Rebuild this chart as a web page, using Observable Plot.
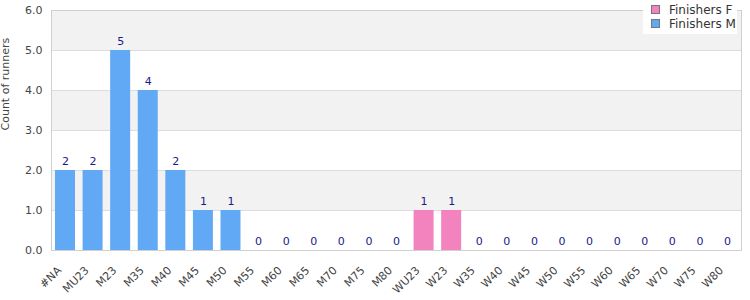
<!DOCTYPE html>
<html>
<head>
<meta charset="utf-8">
<script src="https://cdn.jsdelivr.net/npm/d3@7"></script>
<script src="https://cdn.jsdelivr.net/npm/@observablehq/plot@0.6"></script>
<style>
  html, body { margin: 0; padding: 0; background: #fff; }
  #wrap { position: relative; width: 750px; height: 300px; font-family: "DejaVu Sans", Verdana, sans-serif; }
  #legend { position: absolute; left: 643px; top: 0px; width: 94px; height: 34px; background: #fff; font-size: 12px; color: #333; }
  .item { position: absolute; left: 8px; height: 14px; line-height: 14px; white-space: nowrap; }
  .sw { display: inline-block; width: 7px; height: 7px; border: 1px solid #777; margin-right: 9px; vertical-align: 0px; }
</style>
</head>
<body>
<div id="wrap">
  <div id="chart"></div>
  <div id="legend"></div>
</div>
<script>
const categories = ["#NA","MU23","M23","M35","M40","M45","M50","M55","M60","M65","M70","M75","M80",
  "WU23","W23","W35","W40","W45","W50","W55","W60","W65","W70","W75","W80"];
const finishersM = [2,2,5,4,2,1,1,0,0,0,0,0,0, 0,0,0,0,0,0,0,0,0,0,0,0];
const finishersF = [0,0,0,0,0,0,0,0,0,0,0,0,0, 1,1,0,0,0,0,0,0,0,0,0,0];
const seriesNames = ["Finishers F", "Finishers M"];
const seriesColors = ["#f283be", "#62a9f5"];
const yTicks = [0,1,2,3,4,5,6];
const bands = [[1,2],[3,4],[5,6]];
const yTitle = "Count of runners";

const rows = [];
categories.forEach((c, i) => {
  rows.push({cat: c, series: "Finishers M", value: finishersM[i]});
  rows.push({cat: c, series: "Finishers F", value: finishersF[i]});
});
const totals = categories.map((c, i) => ({cat: c, total: finishersM[i] + finishersF[i]}));

const chart = Plot.plot({
  width: 750,
  height: 300,
  marginLeft: 51,
  marginRight: 9,
  marginTop: 10,
  marginBottom: 50,
  style: {fontFamily: "DejaVu Sans, Verdana, sans-serif", fontSize: "11px", color: "#444", background: "#fff"},
  x: {domain: categories, paddingInner: 0.275, paddingOuter: 0.145, round: false},
  y: {domain: [0, 6]},
  color: {domain: seriesNames, range: seriesColors},
  marks: [
    Plot.barY(bands, {y1: d => d[0], y2: d => d[1], fill: "#f2f2f2"}),
    Plot.ruleY(yTicks, {stroke: "#dddddd"}),
    Plot.barY(rows, {x: "cat", y: "value", fill: "series", order: seriesNames}),
    Plot.text(totals, {x: "cat", y: "total", text: d => String(d.total), dy: -9, fill: "#1a1a8a", fontSize: 11}),
    Plot.frame({stroke: "#d0d0d0"}),
    Plot.axisX({tickRotate: -45, tickSize: 0, tickPadding: 13, dx: -6, dy: 5, label: null, fill: "#444"}),
    Plot.axisY({ticks: yTicks, tickFormat: d => d.toFixed(1), tickSize: 0, tickPadding: 9, label: null, fill: "#444"}),
    Plot.text([yTitle], {frameAnchor: "left", rotate: -90, dx: -46, fill: "#444", fontSize: 11})
  ]
});
document.getElementById("chart").appendChild(chart);

const legend = document.getElementById("legend");
seriesNames.forEach((name, i) => {
  const item = document.createElement("div");
  item.className = "item";
  item.style.top = (3 + i * 14) + "px";
  const sw = document.createElement("span");
  sw.className = "sw";
  sw.style.background = seriesColors[i];
  item.appendChild(sw);
  item.appendChild(document.createTextNode(name));
  legend.appendChild(item);
});
</script>
</body>
</html>
